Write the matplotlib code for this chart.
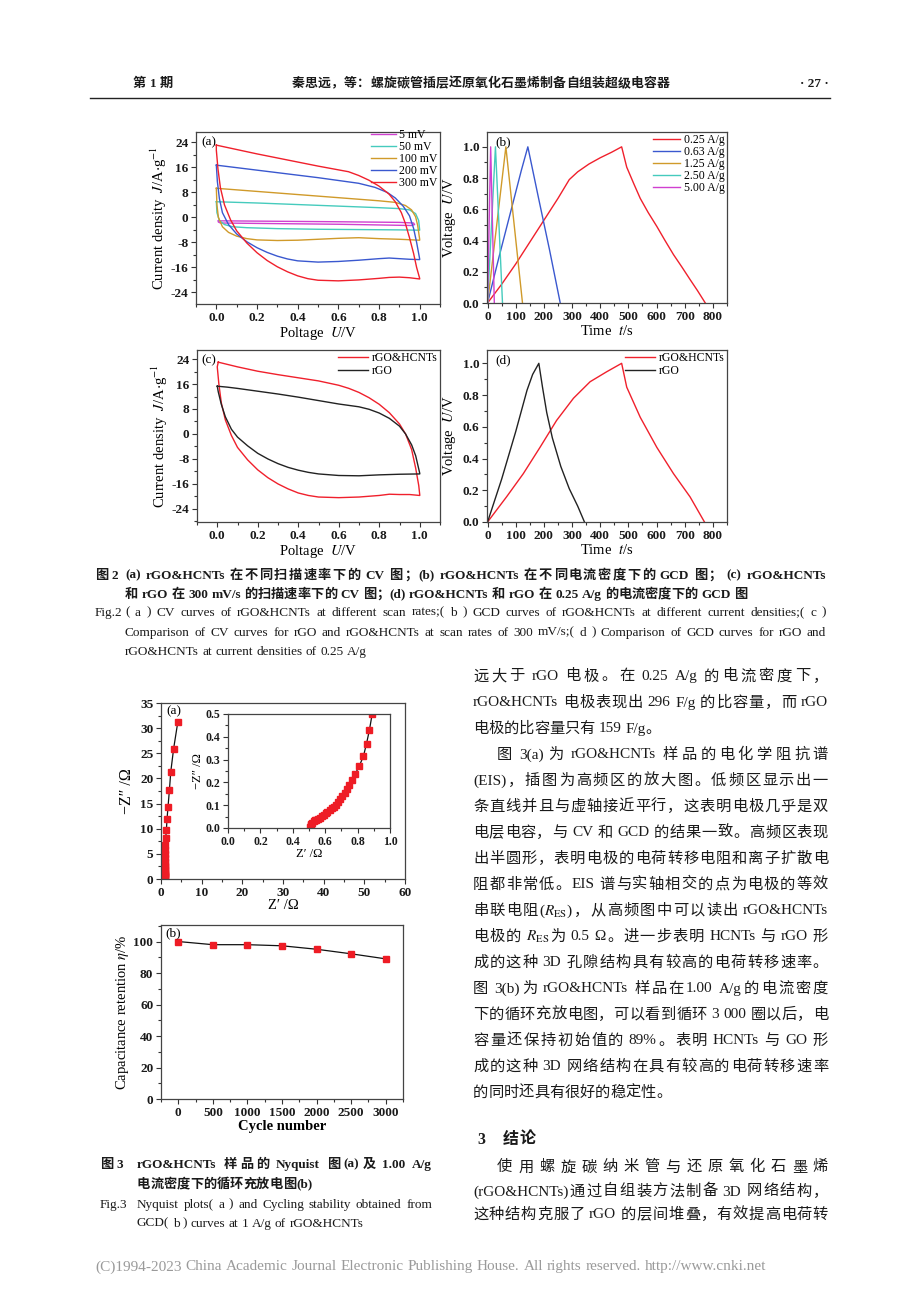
import matplotlib
matplotlib.use('Agg')
import matplotlib.pyplot as plt
from matplotlib.font_manager import FontProperties
from matplotlib.lines import Line2D
from matplotlib.ticker import MultipleLocator, FormatStrFormatter

W, H, DPI = 920, 1302, 100
plt.rcParams['mathtext.fontset'] = 'stix'
plt.rcParams['font.family'] = ['Liberation Serif', 'Noto Sans CJK SC']
plt.rcParams['axes.unicode_minus'] = False
plt.rcParams['axes.linewidth'] = 0.9

# ---------------- data: Fig.2 (a) CV at scan rates ----------------
cv_labels = ['5 mV', '50 mV', '100 mV', '200 mV', '300 mV']
cv5_v = [0.01, 0.3, 0.6, 0.9, 0.97, 0.975, 0.96, 0.6, 0.3, 0.02, 0.01, 0.01]
cv5_j = [-1.1, -1.25, -1.4, -1.6, -1.8, -2.3, -2.6, -2.2, -2.0, -1.8, -1.5, -1.1]
cv50_v = [0.0, 0.2, 0.4, 0.6, 0.8, 0.9, 0.95, 0.98, 0.995, 1.0,
          1.0, 0.9, 0.7, 0.5, 0.3, 0.15, 0.08, 0.04, 0.015, 0.003, 0.0]
cv50_j = [5.0, 4.6, 4.1, 3.6, 3.1, 2.8, 2.4, 1.2, -1.0, -4.0,
          -4.1, -4.0, -3.9, -3.8, -3.6, -3.3, -3.0, -2.3, -1.0, 1.5, 5.0]
cv100_v = [0.0, 0.1, 0.2, 0.3, 0.4, 0.5, 0.6, 0.7, 0.8, 0.88, 0.93, 0.96, 0.98, 0.99, 1.0,
           1.0, 0.9, 0.8, 0.7, 0.6, 0.5, 0.4, 0.3, 0.2, 0.15, 0.1, 0.06, 0.03, 0.01, 0.003, 0.0]
cv100_j = [9.3, 8.8, 8.3, 7.8, 7.3, 6.8, 6.3, 5.8, 5.3, 4.8, 3.8, 2.4, 0.2, -2.5, -7.0,
           -7.3, -7.0, -6.8, -6.5, -6.7, -7.0, -7.3, -7.4, -7.2, -6.8, -6.0, -4.8, -3.0, 0.0, 4.0, 9.3]
cv200_v = [0.0, 0.1, 0.2, 0.3, 0.4, 0.5, 0.6, 0.7, 0.78, 0.84, 0.88, 0.92, 0.95, 0.97, 0.985, 1.0,
           1.0, 0.95, 0.9, 0.85, 0.8, 0.7, 0.6, 0.5, 0.4, 0.35, 0.3, 0.25, 0.2, 0.15, 0.1, 0.06, 0.03,
           0.015, 0.005, 0.0]
cv200_j = [16.7, 15.9, 15.1, 14.3, 13.5, 12.7, 11.8, 10.9, 9.6, 8.0, 6.2, 3.5, 0.5, -3.5, -8.0, -13.3,
           -13.5, -13.4, -13.2, -13.0, -13.2, -13.7, -14.1, -14.3, -13.9, -13.3, -12.4, -11.2, -9.7,
           -7.8, -5.3, -2.3, 1.5, 6.0, 11.5, 16.7]
cv300_v = [0.0, 0.1, 0.2, 0.3, 0.4, 0.5, 0.6, 0.65, 0.7, 0.75, 0.8, 0.85, 0.88, 0.91, 0.93, 0.95,
           0.97, 0.985, 1.0, 1.0, 0.95, 0.9, 0.85, 0.8, 0.7, 0.6, 0.5, 0.45, 0.4, 0.35, 0.3, 0.25,
           0.2, 0.15, 0.1, 0.07, 0.04, 0.02, 0.008, 0.0, 0.0]
cv300_j = [23.1, 21.7, 20.3, 19.0, 17.7, 16.4, 15.2, 14.6, 13.4, 11.9, 10.0, 7.4, 5.0, 1.5, -2.0,
           -6.5, -11.5, -16.0, -19.5, -19.7, -19.3, -19.1, -19.2, -19.5, -20.0, -20.3, -20.1, -19.6,
           -18.7, -17.4, -15.8, -13.8, -11.3, -8.2, -4.3, -0.8, 4.0, 9.5, 15.5, 21.5, 23.1]

# ---------------- data: Fig.2 (b) GCD at current densities ----------------
gcd_labels = ['0.25 A/g', '0.63 A/g', '1.25 A/g', '2.50 A/g', '5.00 A/g']
g025_t = [0, 50, 100, 150, 200, 250, 290, 320, 360, 400, 440, 476,
          494, 520, 542, 570, 601, 630, 660, 690, 719, 745, 773]
g025_v = [0, 0.12, 0.25, 0.39, 0.53, 0.67, 0.79, 0.84, 0.89, 0.93, 0.965, 1.0,
          0.87, 0.76, 0.67, 0.58, 0.49, 0.40, 0.31, 0.23, 0.15, 0.08, 0.0]
g063_t = [0, 40, 80, 120, 143, 180, 220, 258]
g063_v = [0, 0.29, 0.57, 0.85, 1.0, 0.68, 0.34, 0.0]
g125_t = [0, 65, 124]
g125_v = [0, 1.0, 0.0]
g250_t = [0, 28, 53]
g250_v = [0, 1.0, 0.0]
g500_t = [0, 11, 24]
g500_v = [0, 1.0, 0.0]

# ---------------- data: Fig.2 (c) CV comparison at 300 mV/s ----------------
cmp_labels = ['rGO&HCNTs', 'rGO']
cvh_v = [0.005, 0.1, 0.2, 0.3, 0.4, 0.5, 0.6, 0.65, 0.7, 0.75, 0.8, 0.85, 0.9, 0.93, 0.96, 0.98,
         0.995, 1.0, 1.0, 0.95, 0.9, 0.85, 0.8, 0.7, 0.6, 0.5, 0.45, 0.4, 0.35, 0.3, 0.25, 0.2,
         0.15, 0.1, 0.07, 0.04, 0.02, 0.008, 0.0, 0.005]
cvh_j = [23.0, 21.5, 20.1, 19.0, 18.0, 17.0, 15.6, 14.6, 13.3, 11.6, 9.5, 6.8, 3.2, 0.0, -5.0,
         -11.0, -16.5, -19.5, -19.7, -19.4, -19.4, -19.3, -19.7, -20.2, -20.4, -20.2, -19.7,
         -18.9, -17.6, -16.0, -14.0, -11.5, -8.3, -4.3, -0.5, 4.5, 10.0, 16.0, 21.5, 23.0]
cvr_v = [0.0, 0.05, 0.1, 0.2, 0.3, 0.4, 0.5, 0.6, 0.7, 0.75, 0.8, 0.85, 0.9, 0.93, 0.96, 0.98, 1.0,
         1.0, 0.9, 0.8, 0.7, 0.6, 0.5, 0.45, 0.4, 0.35, 0.3, 0.25, 0.2, 0.15, 0.1, 0.07, 0.04,
         0.02, 0.005, 0.0]
cvr_j = [15.3, 15.0, 14.6, 13.7, 12.8, 11.8, 10.7, 9.6, 8.7, 7.9, 6.7, 5.0, 2.5, 0.0, -3.5, -7.0,
         -12.6, -12.8, -12.9, -13.1, -13.4, -13.3, -12.8, -12.3, -11.6, -10.7, -9.5, -8.0, -6.2,
         -3.8, -1.0, 1.5, 5.5, 9.5, 13.5, 15.3]

# ---------------- data: Fig.2 (d) GCD comparison at 0.25 A/g ----------------
gh_t = [0, 68, 127, 186, 245, 305, 364, 423, 476, 494, 542, 601, 660, 719, 770]
gh_v = [0, 0.16, 0.305, 0.47, 0.64, 0.78, 0.884, 0.947, 1.0, 0.85, 0.66, 0.47, 0.305, 0.158, 0.0]
gr_t = [0, 50, 100, 140, 160, 182, 195, 210, 230, 260, 290, 320, 344]
gr_v = [0, 0.27, 0.57, 0.83, 0.93, 1.0, 0.85, 0.69, 0.53, 0.35, 0.21, 0.10, 0.0]

# ---------------- data: Fig.3 (a) Nyquist ----------------
nyq_re = [0.508, 0.510, 0.514, 0.520, 0.528, 0.536, 0.545, 0.555, 0.566, 0.578, 0.590, 0.602,
          0.614, 0.627, 0.640, 0.652, 0.664, 0.676, 0.690, 0.705, 0.720, 0.734, 0.750, 0.766,
          0.787, 0.811, 0.836, 0.855, 0.873, 0.890, 0.91, 0.93, 0.95, 0.97, 0.99, 1.0, 1.01,
          1.02, 1.03, 1.04, 1.05, 1.06, 1.08, 1.16, 1.32, 1.49, 1.73, 2.06, 2.4, 3.1, 4.13]
nyq_im = [0.004, 0.012, 0.018, 0.024, 0.029, 0.033, 0.037, 0.041, 0.046, 0.052, 0.058, 0.064,
          0.071, 0.078, 0.086, 0.094, 0.103, 0.113, 0.127, 0.140, 0.154, 0.170, 0.190, 0.210,
          0.239, 0.273, 0.315, 0.370, 0.430, 0.500, 0.6, 0.75, 0.95, 1.2, 1.5, 1.9, 2.3,
          2.8, 3.4, 4.1, 4.9, 5.8, 6.8, 8.2, 9.7, 12.0, 14.4, 17.6, 21.3, 25.9, 31.2]

# ---------------- data: Fig.3 (b) cycling ----------------
cyc_n = [0, 500, 1000, 1500, 2000, 2500, 3000]
cyc_ret = [100, 98.0, 98.0, 97.3, 95.1, 92.2, 89.0]

# ---------------- page text ----------------
hdr_left = '第 1 期'
hdr_title = '秦思远，等：螺旋碳管插层还原氧化石墨烯制备自组装超级电容器'
hdr_page = '· 27 ·'
cap2_cn = ['(a) rGO&HCNTs 在不同扫描速率下的 CV 图；(b) rGO&HCNTs 在不同电流密度下的 GCD 图； (c) rGO&HCNTs',
           '和 rGO 在 300 mV/s 的扫描速率下的 CV 图；(d) rGO&HCNTs 和 rGO 在 0.25 A/g 的电流密度下的 GCD 图']
cap2_en = ['( a )  CV curves of rGO&HCNTs at different scan rates;( b )  GCD curves of rGO&HCNTs at different current densities;( c )',
           'Comparison of CV curves for rGO and rGO&HCNTs at scan rates of 300 mV/s;( d )  Comparison of GCD curves for rGO and',
           'rGO&HCNTs at current densities of 0.25 A/g']
cap3_cn = ['rGO&HCNTs 样品的 Nyquist 图(a)及 1.00 A/g', '电流密度下的循环充放电图(b)']
cap3_en = ['Nyquist plots( a )  and Cycling stability obtained from', 'GCD( b )  curves at 1 A/g of rGO&HCNTs']
body = ['远大于 rGO 电极。在 0.25 A/g 的电流密度下，',
        'rGO&HCNTs 电极表现出 296 F/g 的比容量，而 rGO',
        '电极的比容量只有 159 F/g。',
        '图 3(a)为 rGO&HCNTs 样品的电化学阻抗谱',
        '(EIS)，插图为高频区的放大图。低频区显示出一',
        '条直线并且与虚轴接近平行，这表明电极几乎是双',
        '电层电容，与 CV 和 GCD 的结果一致。高频区表现',
        '出半圆形，表明电极的电荷转移电阻和离子扩散电',
        '阻都非常低。EIS 谱与实轴相交的点为电极的等效',
        r'串联电阻($R_{\mathrm{ES}}$)，从高频图中可以读出 rGO&HCNTs',
        r'电极的 $R_{\mathrm{ES}}$为 0.5 Ω。进一步表明 HCNTs 与 rGO 形',
        '成的这种 3D 孔隙结构具有较高的电荷转移速率。',
        '图 3(b)为 rGO&HCNTs 样品在1.00 A/g的电流密度',
        '下的循环充放电图，可以看到循环 3 000 圈以后，电',
        '容量还保持初始值的 89%。表明 HCNTs 与 GO 形',
        '成的这种 3D 网络结构在具有较高的电荷转移速率',
        '的同时还具有很好的稳定性。']
body_just = [1, 1, 0, 1, 1, 1, 1, 1, 1, 1, 1, 1, 1, 1, 1, 1, 0]
body_indent = [0, 0, 0, 1, 0, 0, 0, 0, 0, 0, 0, 0, 0, 0, 0, 0, 0]
sec_num = '3'
sec_title = '结论'
concl = ['使用螺旋碳纳米管与还原氧化石墨烯',
         '(rGO&HCNTs)通过自组装方法制备 3D 网络结构，',
         '这种结构克服了 rGO 的层间堆叠，有效提高电荷转']
footer = '(C)1994-2023 China Academic Journal Electronic Publishing House. All rights reserved.    http://www.cnki.net'

# ================= figure =================
fig = plt.figure(figsize=(W / DPI, H / DPI), dpi=DPI)
renderer = fig.canvas.get_renderer()
SER = ['Liberation Serif', 'Noto Sans CJK SC']


def rect(l, t, r, b):
    return [l / W, 1 - b / H, (r - l) / W, (b - t) / H]


def is_cjk(ch):
    o = ord(ch)
    return (0x2E80 <= o <= 0x9FFF) or (0xFF00 <= o <= 0xFFEF) or (0x3000 <= o <= 0x303F)


def tokenize(s):
    toks = []
    state = {'buf': '', 'bsp': False, 'psp': False, 'math': False}

    def flush():
        if state['buf']:
            toks.append([state['buf'], state['bsp']])
            state['buf'] = ''
    for ch in s:
        if state['math'] or ch == '$':
            if not state['buf']:
                state['bsp'] = state['psp']
                state['psp'] = False
            state['buf'] += ch
            if ch == '$':
                state['math'] = not state['math']
            continue
        if ch == ' ':
            flush()
            state['psp'] = True
            continue
        if is_cjk(ch):
            flush()
            toks.append([ch, state['psp']])
            state['psp'] = False
        else:
            if not state['buf']:
                state['bsp'] = state['psp']
                state['psp'] = False
            state['buf'] += ch
    flush()
    return toks


def tw(s, fp):
    return renderer.get_text_width_height_descent(s, fp, ismath=('$' in s))[0]


def space_w(fp):
    return tw('x x', fp) - tw('xx', fp)


def put_line(s, x0, yc, size, x1=None, weight='normal', color='#1a1a1a', family=SER):
    fp = FontProperties(family=family, size=size, weight=weight)
    toks = tokenize(s)
    for _ in range(3):
        widths = [tw(t, fp) for t, _ in toks]
        sp = space_w(fp)
        gaps = [sp if toks[i][1] else 0.0 for i in range(1, len(toks))]
        nat = sum(widths) + sum(gaps)
        if x1 is not None and nat > (x1 - x0):
            fp = FontProperties(family=family, size=fp.get_size() * (x1 - x0) / nat * 0.995,
                                weight=weight)
        else:
            break
    extra = (x1 - x0 - nat) / (len(toks) - 1) if (x1 is not None and len(toks) > 1) else 0.0
    base = yc + 0.36 * fp.get_size() * DPI / 72
    x = x0
    for i, (t, _) in enumerate(toks):
        if i > 0:
            x += gaps[i - 1] + extra
        fig.text(x / W, 1 - base / H, t, fontproperties=fp, color=color, ha='left', va='baseline')
        x += widths[i]


TICK = 9.5


def style(ax, xmaj, xmin, ymaj, ymin, xfmt=None, yfmt=None, tsize=TICK):
    ax.xaxis.set_major_locator(MultipleLocator(xmaj))
    ax.xaxis.set_minor_locator(MultipleLocator(xmin))
    ax.yaxis.set_major_locator(MultipleLocator(ymaj))
    ax.yaxis.set_minor_locator(MultipleLocator(ymin))
    if xfmt:
        ax.xaxis.set_major_formatter(FormatStrFormatter(xfmt))
    if yfmt:
        ax.yaxis.set_major_formatter(FormatStrFormatter(yfmt))
    ax.tick_params(which='both', direction='out', top=False, right=False, labelsize=tsize,
                   width=0.8, color='#333333', labelcolor='#1a1a1a', pad=2)
    ax.tick_params(which='major', length=3.5)
    ax.tick_params(which='minor', length=2)
    for sp in ax.spines.values():
        sp.set_color('#444444')
    plt.setp(ax.get_xticklabels() + ax.get_yticklabels(), fontweight='bold')


LAB = 10.5
LEG = 8.5
PL = 9.5
c_mag, c_cyan, c_gold, c_blue, c_red, c_blk = '#d040d0', '#45cbbd', '#d09a2a', '#3a58cf', '#f0202c', '#222222'

# ---- (a)
ax = fig.add_axes(rect(196, 132, 440, 304))
ax.plot(cv5_v, cv5_j, color=c_mag, lw=1.0, label=cv_labels[0])
ax.plot(cv50_v, cv50_j, color=c_cyan, lw=1.0, label=cv_labels[1])
ax.plot(cv100_v, cv100_j, color=c_gold, lw=1.0, label=cv_labels[2])
ax.plot(cv200_v, cv200_j, color=c_blue, lw=1.0, label=cv_labels[3])
ax.plot(cv300_v, cv300_j, color=c_red, lw=1.0, label=cv_labels[4])
ax.set_xlim(-0.1, 1.1)
ax.set_ylim(-27.7, 27.3)
style(ax, 0.2, 0.1, 8, 4, xfmt='%.1f')
ax.set_xlabel(r'Poltage  $U$/V', fontsize=LAB, labelpad=1)
ax.set_ylabel(r'Current density  $J$/A$\cdot$g$^{-1}$', fontsize=LAB, labelpad=1)
ax.text(0.02, 0.975, '(a)', transform=ax.transAxes, fontsize=PL, va='top', ha='left')
ax.legend(loc='upper right', bbox_to_anchor=(1.0, 1.03), frameon=False, fontsize=LEG,
          handlelength=2.1, handletextpad=0.3, labelspacing=0.0, borderaxespad=0.0, borderpad=0.2)

# ---- (b)
ax = fig.add_axes(rect(487, 132, 727, 303))
ax.plot(g025_t, g025_v, color=c_red, lw=1.0, label=gcd_labels[0])
ax.plot(g063_t, g063_v, color=c_blue, lw=1.0, label=gcd_labels[1])
ax.plot(g125_t, g125_v, color=c_gold, lw=1.0, label=gcd_labels[2])
ax.plot(g250_t, g250_v, color=c_cyan, lw=1.0, label=gcd_labels[3])
ax.plot(g500_t, g500_v, color=c_mag, lw=1.0, label=gcd_labels[4])
ax.set_xlim(-2, 850)
ax.set_ylim(0, 1.095)
style(ax, 100, 50, 0.2, 0.1, yfmt='%.1f')
ax.set_xlabel(r'Time  $t$/s', fontsize=LAB, labelpad=1)
ax.set_ylabel(r'Voltage  $U$/V', fontsize=LAB, labelpad=3)
ax.text(0.035, 0.975, '(b)', transform=ax.transAxes, fontsize=PL, va='top', ha='left')
ax.legend(loc='upper right', bbox_to_anchor=(1.0, 1.0), frameon=False, fontsize=LEG,
          handlelength=2.3, handletextpad=0.3, labelspacing=0.0, borderaxespad=0.0, borderpad=0.2)

# ---- (c)
ax = fig.add_axes(rect(197, 350, 440, 522))
ax.plot(cvh_v, cvh_j, color=c_red, lw=1.0, label=cmp_labels[0])
ax.plot(cvr_v, cvr_j, color=c_blk, lw=1.0, label=cmp_labels[1])
ax.set_xlim(-0.1, 1.1)
ax.set_ylim(-28.2, 26.9)
style(ax, 0.2, 0.1, 8, 4, xfmt='%.1f')
ax.set_xlabel(r'Poltage  $U$/V', fontsize=LAB, labelpad=1)
ax.set_ylabel(r'Current density  $J$/A$\cdot$g$^{-1}$', fontsize=LAB, labelpad=1)
ax.text(0.02, 0.975, '(c)', transform=ax.transAxes, fontsize=PL, va='top', ha='left')
ax.legend(loc='upper right', bbox_to_anchor=(1.0, 1.0), frameon=False, fontsize=LEG,
          handlelength=2.6, handletextpad=0.3, labelspacing=0.05, borderaxespad=0.0, borderpad=0.2)

# ---- (d)
ax = fig.add_axes(rect(487, 350, 727, 522))
ax.plot(gh_t, gh_v, color=c_red, lw=1.0, label=cmp_labels[0])
ax.plot(gr_t, gr_v, color=c_blk, lw=1.0, label=cmp_labels[1])
ax.set_xlim(-2, 850)
ax.set_ylim(0, 1.084)
style(ax, 100, 50, 0.2, 0.1, yfmt='%.1f')
ax.set_xlabel(r'Time  $t$/s', fontsize=LAB, labelpad=1)
ax.set_ylabel(r'Voltage  $U$/V', fontsize=LAB, labelpad=3)
ax.text(0.035, 0.975, '(d)', transform=ax.transAxes, fontsize=PL, va='top', ha='left')
ax.legend(loc='upper right', bbox_to_anchor=(1.0, 1.0), frameon=False, fontsize=LEG,
          handlelength=2.6, handletextpad=0.3, labelspacing=0.05, borderaxespad=0.0, borderpad=0.2)

# ---- Fig.3 (a) Nyquist
ax = fig.add_axes(rect(161, 703, 405, 879))
ax.plot(nyq_re, nyq_im, color='#111111', lw=0.9, marker='s', ms=4.8, mfc='#ee1c25', mec='#ee1c25')
ax.set_xlim(0, 60)
ax.set_ylim(0, 35)
style(ax, 10, 5, 5, 2.5)
ax.set_xlabel('Z′ /Ω', fontsize=LAB, labelpad=0)
ax.set_ylabel('−Z″ /Ω', fontsize=LAB + 1, labelpad=4)
ax.text(0.02, 0.985, '(a)', transform=ax.transAxes, fontsize=PL, va='top', ha='left')

axi = fig.add_axes(rect(228, 714, 390, 828))
axi.plot(nyq_re, nyq_im, color='#111111', lw=0.9, marker='s', ms=3.8, mfc='#ee1c25', mec='#ee1c25')
axi.set_xlim(0, 1.0)
axi.set_ylim(0, 0.5)
style(axi, 0.2, 0.1, 0.1, 0.05, xfmt='%.1f', yfmt='%.1f', tsize=8.5)
axi.set_xlabel('Z′ /Ω', fontsize=9, labelpad=0)
axi.set_ylabel('−Z″ /Ω', fontsize=9, labelpad=1)

# ---- Fig.3 (b) cycling
ax = fig.add_axes(rect(161, 925, 403, 1099))
ax.plot(cyc_n, cyc_ret, color='#111111', lw=0.9, marker='s', ms=5, mfc='#ee1c25', mec='#ee1c25')
ax.set_xlim(-250, 3250)
ax.set_ylim(0, 110.5)
style(ax, 500, 250, 20, 10)
ax.set_xlabel('Cycle number', fontsize=LAB, labelpad=1, fontweight='bold')
ax.set_ylabel(r'Capacitance retention $\eta$/%', fontsize=LAB, labelpad=2)
ax.text(0.02, 0.985, '(b)', transform=ax.transAxes, fontsize=PL, va='top', ha='left')

# ================= page text =================
put_line(hdr_left, 133, 82, 9.5, weight='bold')
put_line(hdr_title, 292, 82, 9.5, x1=670, weight='bold')
fig.text(829 / W, 1 - (82 + 4.7) / H, hdr_page, fontsize=9.5, fontweight='bold', ha='right',
         va='baseline', color='#1a1a1a', family=SER)
fig.add_artist(Line2D([90 / W, 830 / W], [1 - 98 / H, 1 - 98 / H], color='#222222', lw=1.0))

# Fig.2 caption
put_line('图 2', 95, 574, 9.5, weight='bold')
put_line(cap2_cn[0], 125, 574, 9.5, x1=826, weight='bold')
put_line(cap2_cn[1], 125, 593, 9.5, weight='bold')
put_line('Fig.2', 95, 611, 9.5)
put_line(cap2_en[0], 125, 611, 9.5, x1=826)
put_line(cap2_en[1], 125, 631, 9.5, x1=826)
put_line(cap2_en[2], 125, 650, 9.5)

# Fig.3 caption
put_line('图 3', 100, 1163, 9.5, weight='bold')
put_line(cap3_cn[0], 137, 1163, 9.5, x1=432, weight='bold')
put_line(cap3_cn[1], 137, 1183, 9.5, weight='bold')
put_line('Fig.3', 100, 1203, 9.5)
put_line(cap3_en[0], 137, 1203, 9.5, x1=432)
put_line(cap3_en[1], 137, 1222, 9.5)

# right column body
y0, dy = 675, 26.0
for i, s in enumerate(body):
    xs = 497 if body_indent[i] else 473
    put_line(s, xs, y0 + i * dy, 11, x1=(828 if body_just[i] else None))

# section heading and conclusion
put_line(sec_num, 477, 1138, 11.5, weight='bold')
put_line(sec_title, 503, 1138, 11.5, weight='bold')
put_line(concl[0], 497, 1166, 11, x1=828)
put_line(concl[1], 473, 1190, 11, x1=828)
put_line(concl[2], 473, 1213, 11, x1=828)

# footer
put_line(footer, 95, 1265, 11.5, x1=766, color='#9a9a9a')

fig.savefig('out.png', dpi=DPI)
